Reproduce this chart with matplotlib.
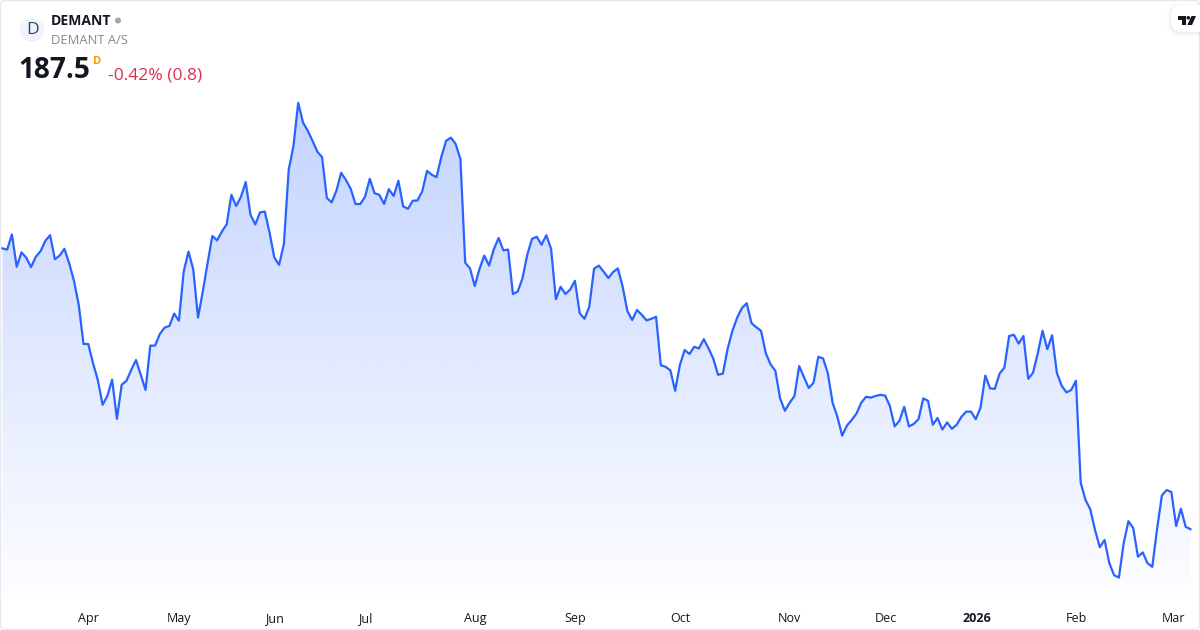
import numpy as np
import matplotlib
matplotlib.use('Agg')
import matplotlib.pyplot as plt
from matplotlib.patches import Circle, FancyBboxPatch, Polygon

plt.rcParams['font.family'] = ['Open Sans', 'Noto Sans', 'DejaVu Sans']

prices = [
    257.7, 257.4, 261.2, 253.1, 256.7, 255.4, 253.0, 255.6, 257.0, 259.6,
    261.0, 255.0, 255.9, 257.6, 254.0, 249.6, 243.6, 233.8, 233.8, 229.0,
    224.8, 218.6, 220.8, 224.9, 215.1, 223.6, 224.6, 227.3, 229.8, 226.1,
    222.3, 233.4, 233.4, 236.3, 237.9, 238.3, 241.4, 239.6, 251.9, 256.9,
    252.5, 240.4, 246.9, 254.0, 260.8, 259.7, 261.9, 263.7, 271.1, 268.3,
    270.6, 274.3, 266.1, 263.7, 266.7, 266.9, 261.6, 255.4, 253.6, 258.8,
    277.3, 283.3, 294.1, 289.2, 287.1, 284.6, 281.9, 280.5, 270.3, 269.2,
    272.1, 276.6, 274.8, 272.6, 268.8, 268.8, 270.6, 275.1, 271.5, 271.1,
    268.8, 272.5, 270.8, 274.6, 268.2, 267.6, 269.6, 269.7, 272.0, 277.1,
    276.1, 275.5, 280.6, 284.6, 285.4, 283.8, 280.0, 254.1, 252.7, 248.3,
    252.6, 255.9, 253.4, 257.5, 260.3, 257.2, 257.4, 246.3, 246.9, 250.2,
    256.1, 260.1, 260.6, 258.6, 261.0, 257.6, 245.0, 248.1, 246.3, 247.4,
    249.6, 241.5, 240.1, 243.1, 252.6, 253.4, 251.9, 250.3, 251.8, 252.7,
    248.1, 242.0, 239.8, 242.3, 241.1, 239.7, 240.1, 240.6, 228.5, 228.1,
    227.2, 222.1, 228.6, 232.3, 231.3, 233.1, 232.7, 235.0, 232.7, 230.1,
    226.1, 226.4, 232.6, 237.1, 240.4, 242.8, 244.0, 239.0, 238.0, 237.1,
    231.5, 228.7, 227.1, 220.2, 217.1, 219.1, 220.8, 228.3, 225.5, 222.8,
    224.1, 230.6, 230.2, 226.5, 219.1, 215.6, 210.9, 213.4, 214.8, 216.4,
    219.1, 220.6, 220.4, 220.8, 221.1, 220.9, 218.3, 213.2, 214.6, 218.1,
    213.2, 213.8, 215.0, 220.2, 219.6, 213.6, 215.3, 212.4, 214.2, 212.6,
    213.6, 215.6, 216.9, 216.9, 215.0, 217.9, 225.9, 222.7, 222.6, 226.4,
    227.9, 235.8, 236.1, 233.9, 235.8, 225.1, 226.6, 231.5, 237.1, 232.5,
    236.0, 226.6, 223.4, 221.7, 222.3, 224.6, 199.1, 194.8, 192.5, 187.3,
    183.0, 184.8, 179.0, 176.0, 175.4, 184.0, 189.5, 187.8, 180.6, 181.7,
    179.0, 178.1, 187.5, 195.9, 197.3, 196.8, 188.3, 192.6, 188.1, 187.5,
]
tick_pos = [18, 37, 57, 76, 99, 120, 142, 165, 185.2, 204.3, 225.2, 245.4]
tick_labels = ['Apr', 'May', 'Jun', 'Jul', 'Aug', 'Sep', 'Oct', 'Nov', 'Dec', '2026', 'Feb', 'Mar']

x = np.arange(len(prices))
y = np.array(prices)

fig = plt.figure(figsize=(12, 6.3), dpi=100, facecolor='white')
ax = fig.add_axes([0, 0, 1, 1])
ax.axis('off')

# gradient under the line
base = 169.8
top = y.max()
grad = np.zeros((256, 2, 4))
grad[..., 0] = 41 / 255
grad[..., 1] = 98 / 255
grad[..., 2] = 1.0
grad[..., 3] = np.linspace(0.28, 0.008, 256)[:, None]
im = ax.imshow(grad, extent=[x[0], x[-1], base, top], origin='upper',
               aspect='auto', zorder=1, interpolation='bilinear')
clip = Polygon(np.vstack([[x[0], base], np.column_stack([x, y]), [x[-1], base]]),
               closed=True, transform=ax.transData, facecolor='none', edgecolor='none')
ax.add_patch(clip)
im.set_clip_path(clip)
ax.set_xlim(-0.5, 251.0)
ax.set_ylim(162.3, 319.8)
ax.plot(x, y, color='#2962ff', lw=1.6, zorder=2, solid_joinstyle='round')

for p, s in zip(tick_pos, tick_labels):
    ax.text(p, 0.0185, s, transform=ax.get_xaxis_transform(), ha='center', va='center',
            fontsize=9, color='#131722', fontweight='bold' if s == '2026' else 'normal')

# header, logo and frame in pixel coordinates
ov = fig.add_axes([0, 0, 1, 1], facecolor='none')
ov.set_xlim(0, 1200)
ov.set_ylim(630, 0)
ov.axis('off')

ov.add_patch(FancyBboxPatch((0.5, 0.5), 1199, 629, boxstyle='round,pad=0,rounding_size=5',
                            fc='none', ec='#e6e8ee', lw=1.0))
ov.add_patch(Circle((32, 30), 12, fc='#f0f3fa', ec='none'))
ov.text(32.2, 30, 'D', ha='center', va='center', fontsize=12.5, color='#2c4a75')
ov.text(51, 21, 'DEMANT', ha='left', va='center', fontsize=10.1, fontweight='bold', color='#131722')
ov.add_patch(Circle((118, 20.5), 3, fc='#a3a6af', ec='none'))
ov.text(51, 40.7, 'DEMANT A/S', ha='left', va='center', fontsize=9.35, color='#868993')
ov.text(18.5, 71, '187.5', ha='left', va='center', fontsize=20.2, fontweight='bold', color='#131722')
ov.text(93, 61, 'D', ha='left', va='center', fontsize=8, fontweight='bold', color='#ff9800')
ov.text(108, 75, '-0.42% (0.8)', ha='left', va='center', fontsize=12.6, color='#d9304f')

# TV badge with a soft shadow
for grow, a in [(4, 0.012), (3, 0.018), (2, 0.024), (1, 0.03)]:
    ov.add_patch(FancyBboxPatch((1171 - grow, 5 - grow + 2), 40 + grow, 26 + 2 * grow,
                                boxstyle='round,pad=0,rounding_size=11', fc='#6a6d78', ec='none',
                                alpha=a, clip_on=True))
ov.add_patch(FancyBboxPatch((1171, 5), 40, 27, boxstyle='round,pad=0,rounding_size=11',
                            fc='white', ec='none', clip_on=True))
ov.add_patch(Polygon([(1177.5, 16), (1186, 16), (1186, 25), (1181.7, 25),
                      (1181.7, 19.7), (1177.5, 19.7)], fc='#131722', ec='none'))
ov.add_patch(Circle((1188.3, 17.8), 1.8, fc='#131722', ec='none'))
ov.add_patch(Polygon([(1191.5, 16), (1196, 16), (1192, 25), (1187.3, 25)], fc='#131722', ec='none'))

fig.savefig('out.png', dpi=100)
